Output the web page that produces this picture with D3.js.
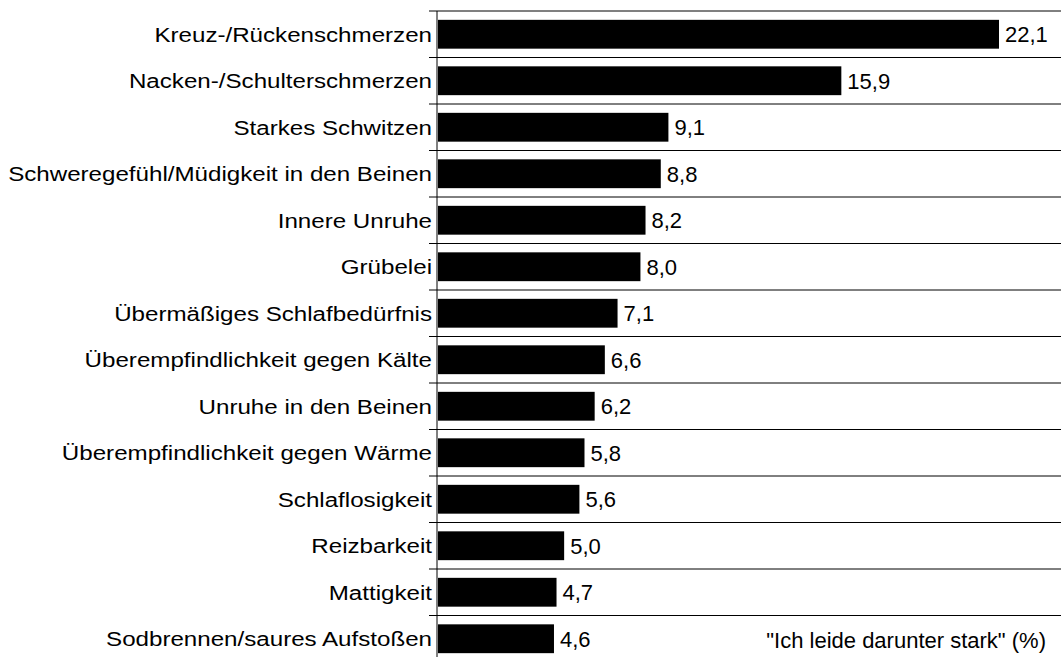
<!DOCTYPE html>
<html>
<head>
<meta charset="utf-8">
<script src="https://cdn.jsdelivr.net/npm/d3@7"></script>
<style>
  body { margin: 0; background: #fff; }
  text { font-family: "Liberation Sans", Arial, sans-serif; }
</style>
</head>
<body>
<div id="chart_div"></div>
<script>
// symptoms, top to bottom
const categories = [
  "Kreuz-/Rückenschmerzen",
  "Nacken-/Schulterschmerzen",
  "Starkes Schwitzen",
  "Schweregefühl/Müdigkeit in den Beinen",
  "Innere Unruhe",
  "Grübelei",
  "Übermäßiges Schlafbedürfnis",
  "Überempfindlichkeit gegen Kälte",
  "Unruhe in den Beinen",
  "Überempfindlichkeit gegen Wärme",
  "Schlaflosigkeit",
  "Reizbarkeit",
  "Mattigkeit",
  "Sodbrennen/saures Aufstoßen"
]
// "Ich leide darunter stark" (%)
const values = [22.1, 15.9, 9.1, 8.8, 8.2, 8.0, 7.1, 6.6, 6.2, 5.8, 5.6, 5.0, 4.7, 4.6]
const noteText = "\"Ich leide darunter stark\" (%)"

const chart_width = 1061,
  chart_height = 657,
  axisX = 437,
  topY = 11,
  step = 46.5

const data = categories.map((c, i) => ({ name: c, value: values[i] }))

const svg = d3.select("#chart_div")
  .append("svg")
  .attr("width", chart_width)
  .attr("height", chart_height)
  .attr("viewBox", `0 0 ${chart_width} ${chart_height}`)

// value to x coord.
const x = d3.scaleLinear()
  .domain([0, 22.1])
  .range([axisX, 999])

// category to y coord.
const y = d3.scaleBand()
  .domain(categories)
  .range([topY, topY + step * categories.length])
  .paddingInner(0.38)
  .paddingOuter(0.19)

// lines between the categories
const boundaries = categories.map(c => y(c) - y.step() * y.paddingOuter())
svg.append("g")
  .selectAll("line")
  .data(boundaries)
  .join("line")
  .attr("x1", axisX - 8)
  .attr("x2", chart_width)
  .attr("y1", d => d)
  .attr("y2", d => d)
  .attr("stroke", "#000")
  .attr("stroke-width", 1)

// bars
svg.append("g")
  .selectAll("rect")
  .data(data)
  .join("rect")
  .attr("x", x(0) + 1)
  .attr("y", d => y(d.name))
  .attr("width", d => x(d.value) - x(0) - 1)
  .attr("height", y.bandwidth())
  .attr("fill", "#000")

// value labels
svg.append("g")
  .selectAll("text")
  .data(data)
  .join("text")
  .attr("x", d => x(d.value) + 6)
  .attr("y", d => y(d.name) + y.bandwidth() / 2)
  .attr("dy", ".36em")
  .attr("font-size", 22)
  .attr("fill", "#000")
  .text(d => d3.format(".1f")(d.value).replace(".", ","))

// category axis (labels are drawn a bit wide in the original)
const yAxis = svg.append("g")
  .attr("transform", `translate(${axisX},0)`)
  .call(d3.axisLeft(y).tickSize(0).tickPadding(0))
yAxis.select(".domain").remove()
yAxis.selectAll("text")
  .attr("x", 0)
  .attr("transform", "translate(-5,0) scale(1.15,1)")
  .attr("dy", ".36em")
  .attr("font-size", 21)
  .attr("font-family", "'Liberation Sans', Arial, sans-serif")
  .attr("fill", "#000")

svg.append("line")
  .attr("x1", axisX)
  .attr("x2", axisX)
  .attr("y1", topY)
  .attr("y2", chart_height)
  .attr("stroke", "#000")
  .attr("stroke-width", 1)

// note bottom right
svg.append("text")
  .attr("x", 1046)
  .attr("y", 648)
  .attr("text-anchor", "end")
  .attr("font-size", 22)
  .attr("fill", "#000")
  .text(noteText)
</script>
</body>
</html>
